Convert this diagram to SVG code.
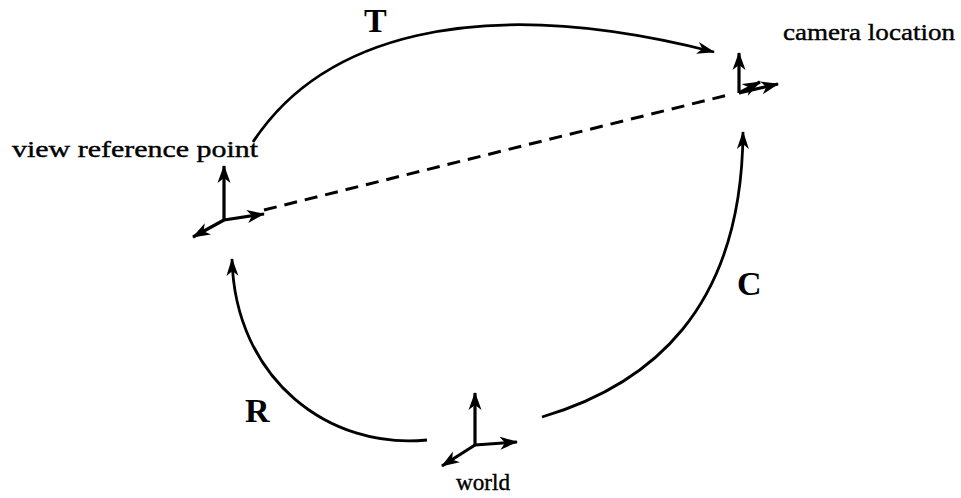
<svg xmlns="http://www.w3.org/2000/svg" width="961" height="498" viewBox="0 0 961 498">
<style>
.lbl{font-family:"Liberation Serif","Times New Roman",serif;font-size:24px;fill:#000;stroke:#000;stroke-width:0.4}
.big{font-family:"Liberation Serif","Times New Roman",serif;font-size:34px;font-weight:bold;fill:#000}
.axis{stroke:#000;stroke-width:3.2;fill:none;marker-end:url(#ah)}
.arc{stroke:#000;stroke-width:2.8;fill:none;marker-end:url(#ah2)}
.dash{stroke:#000;stroke-width:3;fill:none;stroke-dasharray:13 8}
</style>
<defs>
<marker id="ah" markerUnits="userSpaceOnUse" markerWidth="20" markerHeight="14" refX="17" refY="7" orient="auto">
<path d="M0,0.5 L18,7 L0,13.5 L5,7 Z" fill="#000"/>
</marker>
<marker id="ah2" markerUnits="userSpaceOnUse" markerWidth="20" markerHeight="14" refX="17" refY="7" orient="auto">
<path d="M0,1 L18,7 L0,13 L5,7 Z" fill="#000"/>
</marker>
</defs>
<rect width="961" height="498" fill="#fff"/>
<g id="connectors">
<path class="dash" d="M264,210 L728,95"/>
<path class="arc" d="M253,142 C320,40 470,-10 714,52"/>
<path class="arc" d="M427,440 C330,450 235,380 232,259"/>
<path class="arc" d="M542,417 C650,385 742,310 743,132"/>
</g>
<g id="camera">
<line class="axis" x1="739" y1="93" x2="739" y2="53"/>
<line class="axis" x1="739" y1="93" x2="778" y2="84"/>
<line class="axis" x1="739" y1="93" x2="760" y2="82"/>
<text class="lbl" x="783" y="40" textLength="172" lengthAdjust="spacingAndGlyphs">camera location</text>
</g>
<g id="vrp">
<line class="axis" x1="224" y1="220" x2="224" y2="166"/>
<line class="axis" x1="224" y1="220" x2="193" y2="237"/>
<line class="axis" x1="224" y1="220" x2="264" y2="214"/>
<text class="lbl" x="12" y="157" textLength="246" lengthAdjust="spacingAndGlyphs">view reference point</text>
</g>
<g id="world">
<line class="axis" x1="475" y1="445" x2="475" y2="393"/>
<line class="axis" x1="475" y1="445" x2="517" y2="442"/>
<line class="axis" x1="475" y1="445" x2="442" y2="466"/>
<text class="lbl" x="456" y="490" textLength="54" lengthAdjust="spacingAndGlyphs">world</text>
</g>
<g id="labels">
<text class="big" x="364" y="32">T</text>
<text class="big" x="245" y="422">R</text>
<text class="big" x="737" y="295">C</text>
</g>
</svg>
